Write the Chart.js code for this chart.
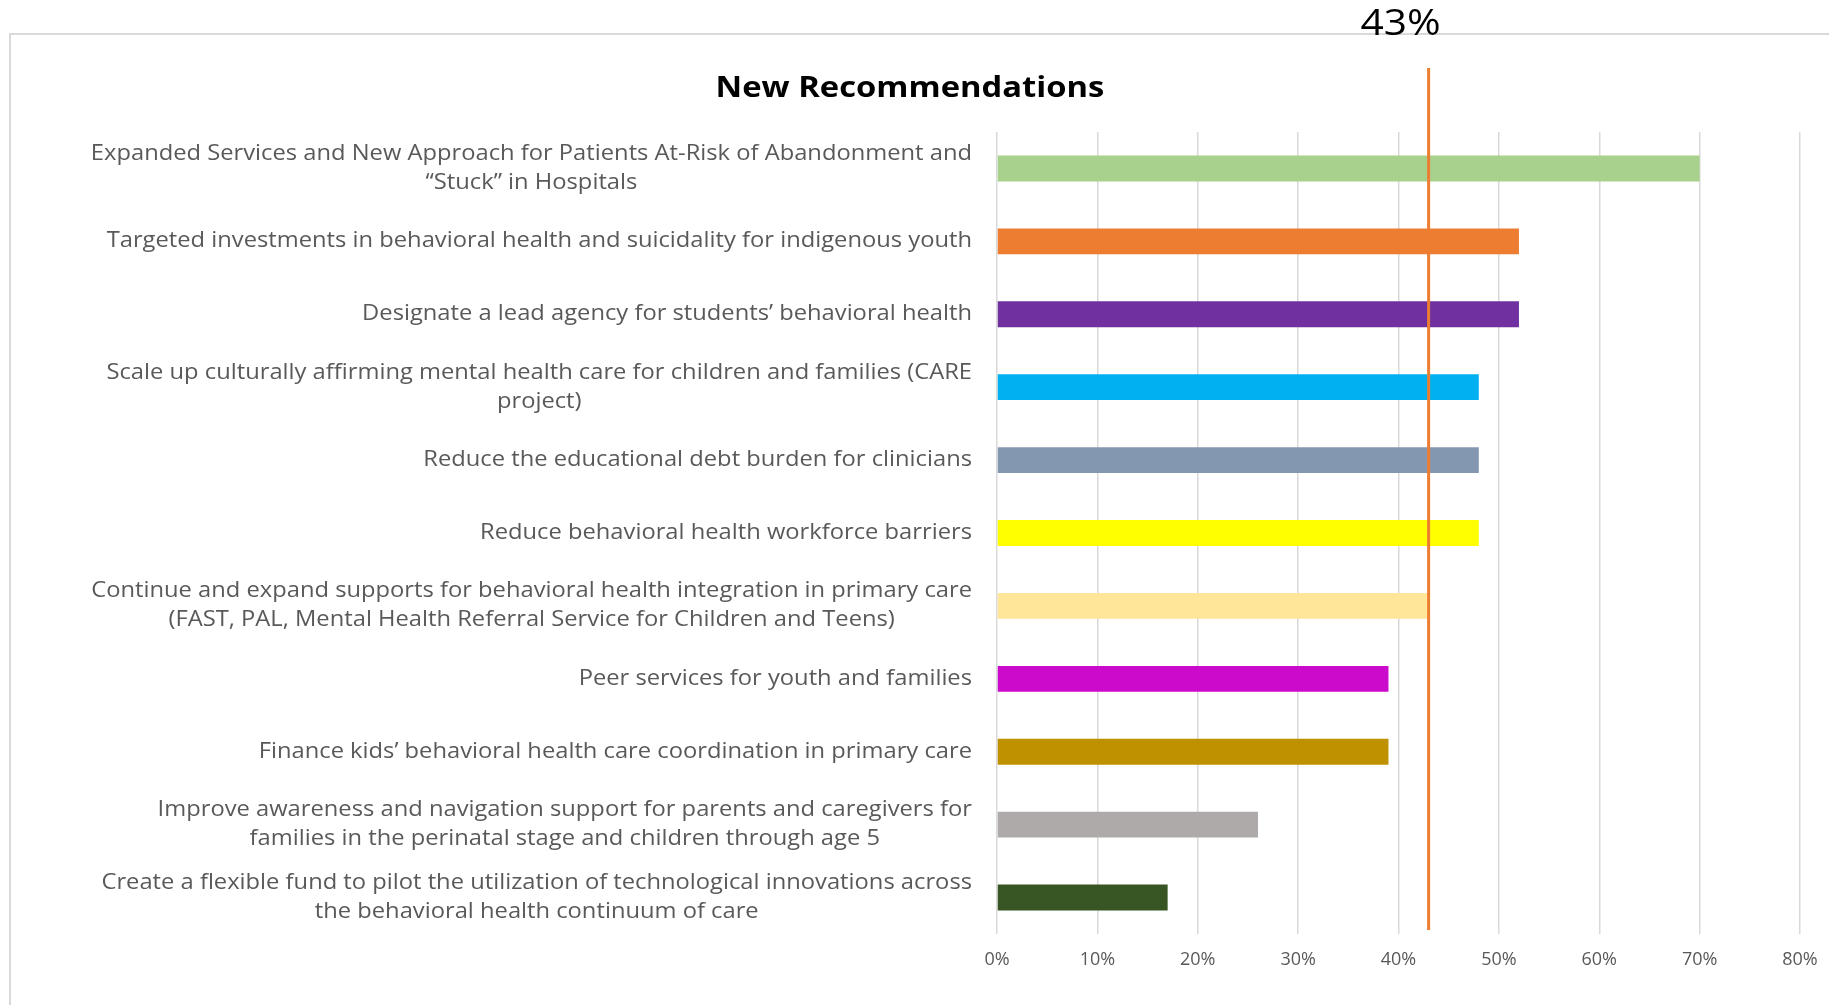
<!DOCTYPE html>
<html>
<head>
<meta charset="utf-8">
<script src="https://cdn.jsdelivr.net/npm/chart.js@4"></script>
<style>
    html, body { margin: 0; padding: 0; background: #fff; }
    #wrap { position: relative; width: 1829px; height: 1005px; overflow: hidden; }
    #frame { position: absolute; left: 9px; top: 33px; right: -5px; bottom: -5px; border-top: 2px solid #d9d9d9; border-left: 2px solid #d9d9d9; }
    #chart { position: absolute; left: 0; top: 0; }
</style>
</head>
<body>
<div id="wrap">
    <div id="frame"></div>
    <canvas id="chart" width="1829" height="1005"></canvas>
</div>
<script>
const chartTitle = "New Recommendations"

const categories = [
    ["Expanded Services and New Approach for Patients At-Risk of Abandonment and", "“Stuck” in Hospitals"],
    ["Targeted investments in behavioral health and suicidality for indigenous youth"],
    ["Designate a lead agency for students’ behavioral health"],
    ["Scale up culturally affirming mental health care for children and families (CARE", "project)"],
    ["Reduce the educational debt burden for clinicians"],
    ["Reduce behavioral health workforce barriers"],
    ["Continue and expand supports for behavioral health integration in primary care", "(FAST, PAL, Mental Health Referral Service for Children and Teens)"],
    ["Peer services for youth and families"],
    ["Finance kids’ behavioral health care coordination in primary care"],
    ["Improve awareness and navigation support for parents and caregivers for", "families in the perinatal stage and children through age 5"],
    ["Create a flexible fund to pilot the utilization of technological innovations across", "the behavioral health continuum of care"]
]

const values = [70, 52, 52, 48, 48, 48, 43, 39, 39, 26, 17]

const barColors = [
    "#A9D18E", "#ED7D31", "#7030A0", "#00B0F0", "#8497B0", "#FFFF00",
    "#FFE699", "#CC0ACC", "#BF9000", "#AEAAAA", "#375623"
]

const tickMin = 0
const tickMax = 80
const tickStep = 10

const averageValue = 43
const averageLabel = "43%"

const FONT = "'Open Sans', 'DejaVu Sans', sans-serif"
const STRETCH = 1.13 // the original text is horizontally wide

// draw text with a horizontal stretch, centered at x
function wideText(ctx, text, x, y) {
    ctx.save()
    ctx.translate(x, y)
    ctx.scale(STRETCH, 1)
    ctx.fillText(text, 0, 0)
    ctx.restore()
}

// category labels: right-aligned block, lines centered inside it
const categoryLabels = {
    id: 'categoryLabels',
    afterDraw(chart) {
        const ctx = chart.ctx
        const yScale = chart.scales.y
        const right = chart.chartArea.left - 25
        const lineH = 29
        ctx.save()
        ctx.font = "21px " + FONT
        ctx.fillStyle = "#595959"
        ctx.textAlign = "center"
        ctx.textBaseline = "middle"
        categories.forEach((lines, i) => {
            const yc = yScale.getPixelForValue(i)
            const widest = Math.max(...lines.map(l => ctx.measureText(l).width)) * STRETCH
            const cx = right - widest / 2
            lines.forEach((line, j) => {
                wideText(ctx, line, cx, yc + (j - (lines.length - 1) / 2) * lineH)
            })
        })
        ctx.restore()
    }
}

const averageLine = {
    id: 'averageLine',
    afterDatasetsDraw(chart) {
        const ctx = chart.ctx
        const x = chart.scales.x.getPixelForValue(averageValue)
        ctx.save()
        ctx.strokeStyle = "#ED7D31"
        ctx.lineWidth = 3
        ctx.beginPath()
        ctx.moveTo(x, 68)
        ctx.lineTo(x, 930)
        ctx.stroke()
        ctx.font = "36px " + FONT
        ctx.fillStyle = "#000"
        ctx.textAlign = "center"
        ctx.textBaseline = "middle"
        wideText(ctx, averageLabel, x - 28, 25)

        ctx.font = "bold 29px " + FONT
        wideText(ctx, chartTitle, 910, 89)
        ctx.restore()
    }
}

const ctx = document.getElementById('chart').getContext('2d')
new Chart(ctx, {
    type: 'bar',
    data: {
        labels: categories.map(c => c.join(' ')),
        datasets: [{
            data: values,
            backgroundColor: barColors,
            barPercentage: 0.355,
            categoryPercentage: 1
        }]
    },
    options: {
        indexAxis: 'y',
        responsive: false,
        animation: false,
        layout: { padding: { top: 132, right: 29, bottom: 0, left: 0 } },
        plugins: {
            legend: { display: false },
            tooltip: { enabled: false }
        },
        scales: {
            x: {
                min: tickMin,
                max: tickMax,
                ticks: {
                    stepSize: tickStep,
                    autoSkip: false,
                    maxRotation: 0,
                    callback: v => v + '%',
                    color: '#595959',
                    font: { family: FONT, size: 18 },
                    padding: 15
                },
                grid: { color: '#d9d9d9', lineWidth: 1.5, drawTicks: false },
                border: { display: false },
                afterFit: s => {
                    s.height = 71
                    s.paddingLeft = 0
                    s.paddingRight = 0
                }
            },
            y: {
                ticks: { display: false },
                grid: { display: false },
                border: { display: false },
                afterFit: s => { s.width = 997 }
            }
        }
    },
    plugins: [categoryLabels, averageLine]
})
</script>
</body>
</html>
